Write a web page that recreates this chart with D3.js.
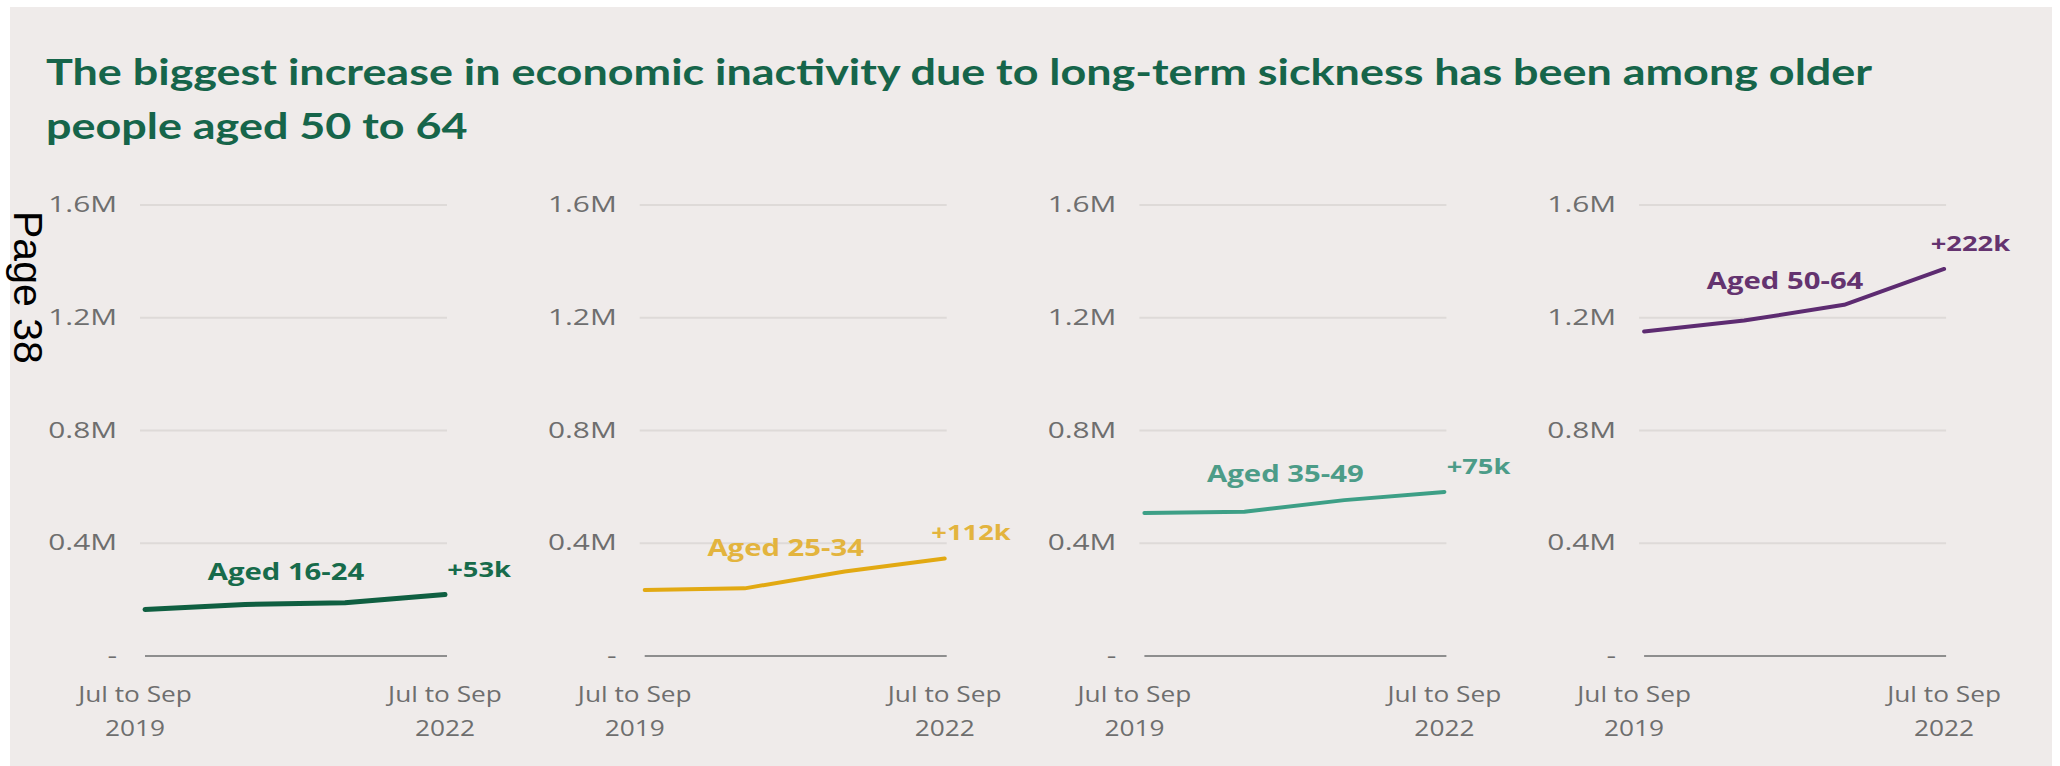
<!DOCTYPE html>
<html>
<head>
<meta charset="utf-8">
<script src="https://cdn.jsdelivr.net/npm/d3@7"></script>
<style>
  body { margin: 0; background: #fff; }
  svg { display: block; }
</style>
</head>
<body>
<div id="chart"></div>
<script>
// data (millions of people)
const periods = ["Jul to Sep 2019", "Jul to Sep 2020", "Jul to Sep 2021", "Jul to Sep 2022"];
const ageGroups = ["Aged 16-24", "Aged 25-34", "Aged 35-49", "Aged 50-64"];
const changeLabels = ["+53k", "+112k", "+75k", "+222k"];
const aged16to24 = [0.165, 0.183, 0.189, 0.218];
const aged25to34 = [0.234, 0.240, 0.300, 0.346];
const aged35to49 = [0.507, 0.512, 0.553, 0.582];
const aged50to64 = [1.151, 1.190, 1.246, 1.373];
const yTicks = [0, 0.4, 0.8, 1.2, 1.6];
const yTickLabels = ["-", "0.4M", "0.8M", "1.2M", "1.6M"];
const xTickLabels = [["Jul to Sep", "2019"], ["Jul to Sep", "2022"]];
const titleLines = [
  "The biggest increase in economic inactivity due to long-term sickness has been among older",
  "people aged 50 to 64"
];

const series = [aged16to24, aged25to34, aged35to49, aged50to64];
const lineColors = ["#0f5f41", "#e2a912", "#3d9f86", "#5d2b71"];
const labelColors = ["#176b4b", "#e3b43e", "#4c9c88", "#64336f"];

// stretch text sideways, the source picture is wider than it is tall
function stretch(sel, k) {
  sel.each(function() {
    const w = this.getComputedTextLength();
    d3.select(this).attr("textLength", w * k).attr("lengthAdjust", "spacingAndGlyphs");
  });
}

const W = 2060, H = 766;
const svg = d3.select("#chart").append("svg")
  .attr("width", W)
  .attr("height", H);

svg.append("rect")
  .attr("x", 10).attr("y", 7)
  .attr("width", W - 18).attr("height", H - 7)
  .attr("fill", "#efebea");

// title
const titleG = svg.append("g").attr("transform", "translate(46,0)");
const t1 = titleG.append("text")
  .attr("y", 85)
  .style("font-family", "Lato, sans-serif")
  .style("font-weight", "700")
  .style("font-size", "37px")
  .style("fill", "#16654a")
  .text(titleLines[0]);
const titleK = 1826 / t1.node().getComputedTextLength();
stretch(t1, titleK);
const t2 = titleG.append("text")
  .attr("y", 139)
  .style("font-family", "Lato, sans-serif")
  .style("font-weight", "700")
  .style("font-size", "37px")
  .style("fill", "#16654a")
  .text(titleLines[1]);
stretch(t2, titleK);

// side note
svg.append("text")
  .attr("transform", "translate(14,211) rotate(90)")
  .style("font-family", "'Liberation Sans', Arial, sans-serif")
  .style("font-size", "41px")
  .style("fill", "#000")
  .text("Page 38");

const plotW = 300;
const y = d3.scaleLinear().domain([0, 1.6]).range([656, 205]);
const x = d3.scalePoint().domain(periods).range([0, plotW]);

series.forEach((values, i) => {
  const g = svg.append("g").attr("transform", `translate(${145 + i * 499.7},0)`);

  // gridlines
  g.selectAll(".grid")
    .data(yTicks.filter(d => d > 0))
    .enter().append("line")
    .attr("x1", -5).attr("x2", plotW + 2)
    .attr("y1", d => y(d)).attr("y2", d => y(d))
    .attr("stroke", "#dedad8")
    .attr("stroke-width", 2);

  g.append("line")
    .attr("x1", 0).attr("x2", plotW + 2)
    .attr("y1", y(0)).attr("y2", y(0))
    .attr("stroke", "#8e8e8e")
    .attr("stroke-width", 2);

  // y axis labels
  const ax = g.append("g")
    .call(d3.axisLeft(y).tickValues(yTicks)
      .tickFormat((d, j) => yTickLabels[j])
      .tickSize(0).tickPadding(28));
  ax.select(".domain").remove();
  ax.selectAll("text")
    .style("font-family", "'Open Sans', sans-serif")
    .style("font-size", "21px")
    .style("fill", "#6e6e6e");
  stretch(ax.selectAll("text"), 1.42);

  // x labels, first and last period only
  const ends = [periods[0], periods[periods.length - 1]];
  ends.forEach((p, j) => {
    const tx = g.append("text")
      .attr("text-anchor", "middle")
      .style("font-family", "'Open Sans', sans-serif")
      .style("font-size", "21px")
      .style("fill", "#6e6e6e");
    xTickLabels[j].forEach((ln, k) => {
      tx.append("tspan")
        .attr("x", x(p) - (j === 0 ? 10 : 0))
        .attr("y", 702 + k * 34)
        .text(ln);
    });
    tx.selectAll("tspan").each(function() {
      const w = this.getComputedTextLength();
      d3.select(this).attr("textLength", w * 1.25).attr("lengthAdjust", "spacingAndGlyphs");
    });
  });

  // line
  const line = d3.line()
    .x((d, j) => x(periods[j]))
    .y(d => y(d));
  g.append("path")
    .datum(values)
    .attr("d", line)
    .attr("fill", "none")
    .attr("stroke", lineColors[i])
    .attr("stroke-width", i === 0 ? 5 : 4)
    .attr("stroke-linejoin", "round")
    .attr("stroke-linecap", "round");

  // series label
  const lab = g.append("text")
    .attr("x", plotW / 2 - 9)
    .attr("y", y(d3.mean(values.slice(1, 3))) - 24)
    .attr("text-anchor", "middle")
    .style("font-family", "'Open Sans', sans-serif")
    .style("font-weight", "700")
    .style("font-size", "24px")
    .style("fill", labelColors[i])
    .text(ageGroups[i]);
  stretch(lab, 1.22);

  // change label
  const last = values[values.length - 1];
  const ch = g.append("text")
    .attr("x", x(periods[periods.length - 1]) + 66)
    .attr("y", y(last) - 18)
    .attr("text-anchor", "end")
    .style("font-family", "'Open Sans', sans-serif")
    .style("font-weight", "700")
    .style("font-size", "21px")
    .style("fill", labelColors[i])
    .text(changeLabels[i]);
  stretch(ch, 1.3);
});
</script>
</body>
</html>
